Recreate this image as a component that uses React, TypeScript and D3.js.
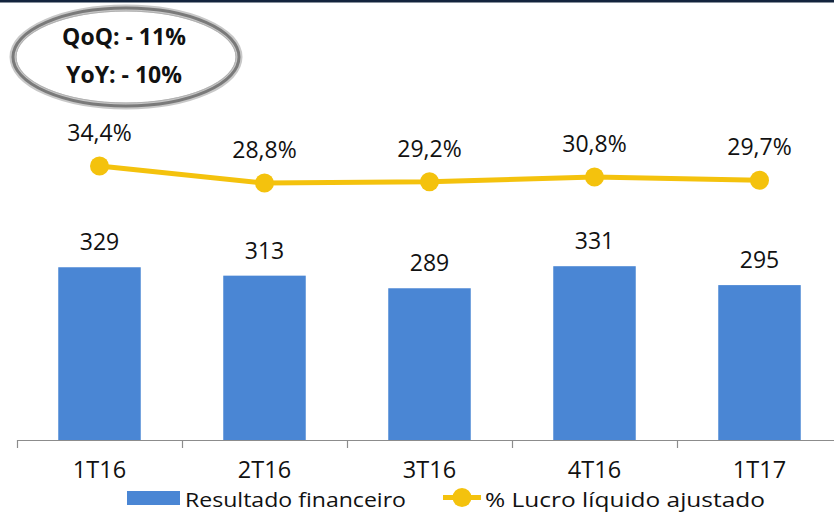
import React from "react";
import * as d3 from "d3";

const categories = ["1T16", "2T16", "3T16", "4T16", "1T17"];
const resultado = [329, 313, 289, 331, 295];
const lucroPct = [34.4, 28.8, 29.2, 30.8, 29.7];
const resultadoLabels = ["329", "313", "289", "331", "295"];
const lucroLabels = ["34,4%", "28,8%", "29,2%", "30,8%", "29,7%"];
const badgeLines = ["QoQ: - 11%", "YoY: - 10%"];
const legendItems = ["Resultado financeiro", "% Lucro líquido ajustado"];

const W = 834;
const H = 513;
const FONT = "'Open Sans', Lato, sans-serif";

export default function App() {
  const x = d3.scaleBand<string>().domain(categories).range([17, 842]).paddingInner(0.5).paddingOuter(0.25);
  const xOuter = d3.scaleBand<string>().domain(categories).range([17, 842]);
  const y = d3.scaleLinear().domain([0, 838]).range([440, 0]);
  const y2 = d3.scaleLinear().domain([0, 34.4]).range([270.6, 166]);
  const cx = (i: number) => (xOuter(categories[i]) as number) + xOuter.bandwidth() / 2;
  const line = d3
    .line<number>()
    .x((_, i) => cx(i))
    .y((d) => y2(d));

  const blue = "#4a86d4";
  const yellow = "#f4c20d";

  return (
    <svg width={W} height={H} style={{ position: "absolute", left: 0, top: 0, background: "#fff" }} fontFamily={FONT}>
      <rect x={0} y={0} width={W} height={H} fill="#fff" />
      <rect x={0} y={0} width={W} height={2.5} fill="#13243d" />

      {/* badge */}
      <g>
        <ellipse cx={126} cy={57} rx={113} ry={49} fill="#fff" stroke="#c8c8c8" strokeWidth={7} />
        <ellipse cx={126} cy={57} rx={113} ry={49} fill="none" stroke="#7a7a7a" strokeWidth={3} />
        <ellipse cx={126} cy={57} rx={110} ry={46} fill="none" stroke="#b0b0b0" strokeWidth={1} />
        <text x={124} y={45} textAnchor="middle" fontWeight={700} fontSize={23} fill="#111">{badgeLines[0]}</text>
        <text x={124} y={83} textAnchor="middle" fontWeight={700} fontSize={23} fill="#111">{badgeLines[1]}</text>
      </g>

      {/* bars */}
      {resultado.map((v, i) => (
        <rect key={categories[i]} x={x(categories[i])} y={y(v)} width={x.bandwidth()} height={y(0) - y(v)} fill={blue} />
      ))}
      {resultado.map((v, i) => (
        <text key={"bl" + i} x={cx(i)} y={y(v) - 17} textAnchor="middle" fontSize={23} fill="#111">
          {resultadoLabels[i]}
        </text>
      ))}

      {/* axis */}
      <line x1={17} x2={W} y1={440.5} y2={440.5} stroke="#8c8c8c" strokeWidth={1.2} />
      {categories.map((c) => (
        <line key={"t" + c} x1={(xOuter(c) as number) + 0.5} x2={(xOuter(c) as number) + 0.5} y1={440} y2={448} stroke="#8c8c8c" strokeWidth={1.2} />
      ))}
      {categories.map((c, i) => (
        <text key={"c" + c} x={cx(i)} y={478} textAnchor="middle" fontSize={23.5} fill="#111">
          {c}
        </text>
      ))}

      {/* line */}
      <path d={line(lucroPct) || ""} fill="none" stroke={yellow} strokeWidth={5} />
      {lucroPct.map((v, i) => (
        <circle key={"p" + i} cx={cx(i)} cy={y2(v)} r={9.5} fill={yellow} />
      ))}
      {lucroPct.map((v, i) => (
        <text key={"pl" + i} x={cx(i)} y={y2(v) - 25} textAnchor="middle" fontSize={23} fill="#111">
          {lucroLabels[i]}
        </text>
      ))}

      {/* legend */}
      <rect x={127} y={491} width={53} height={14} fill={blue} />
      <text x={185} y={507} fontSize={20.5} fill="#111" textLength={221} lengthAdjust="spacingAndGlyphs">{legendItems[0]}</text>
      <line x1={443} x2={481} y1={497.5} y2={497.5} stroke={yellow} strokeWidth={5} />
      <circle cx={462} cy={497.5} r={9.5} fill={yellow} />
      <text x={485} y={507} fontSize={20.5} fill="#111" textLength={280} lengthAdjust="spacingAndGlyphs">{legendItems[1]}</text>
    </svg>
  );
}
